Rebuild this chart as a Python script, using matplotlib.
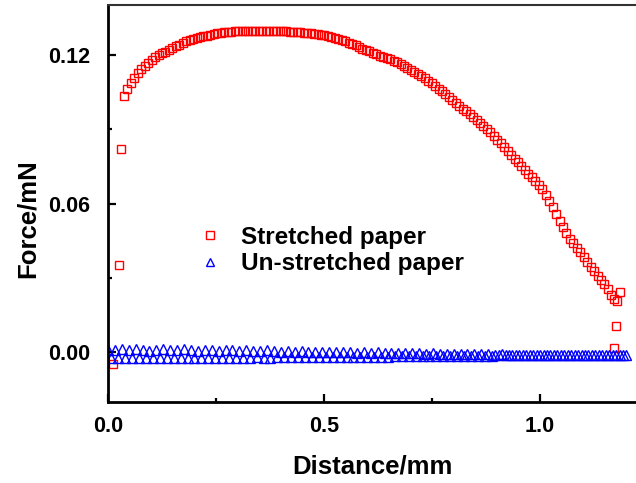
import matplotlib
matplotlib.use('Agg')
import matplotlib.pyplot as plt
from matplotlib.ticker import MultipleLocator

plt.rcParams['font.family'] = ['Liberation Sans', 'DejaVu Sans']
plt.rcParams['font.weight'] = 'bold'

# Stretched paper (red squares)
red_x = [0.012, 0.025, 0.030,
         0.037, 0.045, 0.053, 0.061, 0.069, 0.077, 0.085, 0.093, 0.101, 0.109,
         0.117, 0.125, 0.133, 0.141, 0.149, 0.157, 0.165, 0.173, 0.181, 0.189,
         0.197, 0.205, 0.213, 0.221, 0.229, 0.237, 0.245, 0.253, 0.261, 0.269,
         0.277, 0.285, 0.293, 0.301, 0.309, 0.317, 0.325, 0.333, 0.341, 0.349,
         0.357, 0.365, 0.373, 0.381, 0.389, 0.397, 0.405, 0.413, 0.421, 0.429,
         0.437, 0.445, 0.453, 0.461, 0.469, 0.477, 0.485, 0.493, 0.501, 0.509,
         0.517, 0.525, 0.533, 0.541, 0.549, 0.557, 0.565, 0.573, 0.581, 0.589,
         0.597, 0.605, 0.613, 0.621, 0.629, 0.637, 0.645, 0.653, 0.661, 0.669,
         0.677, 0.685, 0.693, 0.701, 0.709, 0.717, 0.725, 0.733, 0.741, 0.749,
         0.757, 0.765, 0.773, 0.781, 0.789, 0.797, 0.805, 0.813, 0.821, 0.829,
         0.837, 0.845, 0.853, 0.861, 0.869, 0.877, 0.885, 0.893, 0.901, 0.909,
         0.917, 0.925, 0.933, 0.941, 0.949, 0.957, 0.965, 0.973, 0.981, 0.989,
         0.997, 1.005, 1.013, 1.021, 1.029, 1.037, 1.045, 1.053, 1.061, 1.069,
         1.077, 1.085, 1.093, 1.101, 1.109, 1.117, 1.125, 1.133, 1.141, 1.149,
         1.157,
         1.165, 1.172, 1.178, 1.185, 1.176, 1.170]
red_y = [-0.005, 0.035, 0.082,
         .1034, .1062, .1088, .1108, .1126, .1142, .1156, .1169, .1180, .1190,
         .1199, .1207, .1214, .1221, .1228, .1235, .1241, .1249, .1255, .1260,
         .1265, .1269, .1272, .1275, .1278, .1281, .1284, .1287, .1289, .1291,
         .1293, .1294, .1295, .1296, .1297, .1297, .1298, .1298, .1298, .1298,
         .1298, .1298, .1297, .1297, .1296, .1296, .1295, .1295, .1294, .1293,
         .1292, .1291, .1290, .1288, .1287, .1285, .1283, .1281, .1279, .1276,
         .1272, .1268, .1264, .1259, .1255, .1250, .1244, .1239, .1233, .1226,
         .1220, .1215, .1209, .1203, .1197, .1192, .1187, .1182, .1177, .1172,
         .1165, .1157, .1149, .1141, .1133, .1124, .1115, .1106, .1096, .1086,
         .1075, .1064, .1053, .1041, .1029, .1018, .1006, .0994, .0982, .0972,
         .0961, .0950, .0938, .0926, .0914, .0901, .0887, .0872, .0858, .0843,
         .0828, .0812, .0796, .0781, .0766, .0751, .0736, .0721, .0706, .0691,
         .0676, .0657, .0634, .0611, .0585, .0557, .0529, .0505, .0481, .0457,
         .0439, .0421, .0404, .0384, .0364, .0345, .0327, .0309, .0291, .0273,
         .0255,
         .0232, .0215, .0206, .0242, .0105, .0015]

# Un-stretched paper (blue triangles)
blue_x = [0.000, 0.008, 0.016, 0.024, 0.032, 0.040, 0.048, 0.056, 0.064, 0.072,
          0.080, 0.088, 0.096, 0.104, 0.112, 0.120, 0.128, 0.136, 0.144, 0.152,
          0.160, 0.168, 0.176, 0.184, 0.192, 0.200, 0.208, 0.216, 0.224, 0.232,
          0.240, 0.248, 0.256, 0.264, 0.272, 0.280, 0.288, 0.296, 0.304, 0.312,
          0.320, 0.328, 0.336, 0.344, 0.352, 0.360, 0.368, 0.376, 0.384, 0.392,
          0.400, 0.408, 0.416, 0.424, 0.432, 0.440, 0.448, 0.456, 0.464, 0.472,
          0.480, 0.488, 0.496, 0.504, 0.512, 0.520, 0.528, 0.536, 0.544, 0.552,
          0.560, 0.568, 0.576, 0.584, 0.592, 0.600, 0.608, 0.616, 0.624, 0.632,
          0.640, 0.648, 0.656, 0.664, 0.672, 0.680, 0.688, 0.696, 0.704, 0.712,
          0.720, 0.728, 0.736, 0.744, 0.752, 0.760, 0.768, 0.776, 0.784, 0.792,
          0.800, 0.808, 0.816, 0.824, 0.832, 0.840, 0.848, 0.856, 0.864, 0.872,
          0.880, 0.888, 0.896, 0.904, 0.912, 0.920, 0.928, 0.936, 0.944, 0.952,
          0.960, 0.968, 0.976, 0.984, 0.992, 1.000, 1.008, 1.016, 1.024, 1.032,
          1.040, 1.048, 1.056, 1.064, 1.072, 1.080, 1.088, 1.096, 1.104, 1.112,
          1.120, 1.128, 1.136, 1.144, 1.152, 1.160, 1.168, 1.176, 1.184, 1.192,
          1.200]
blue_y = [0.0010, -0.0024, 0.0008, -0.0025, 0.0012, -0.0023, 0.0007, -0.0024, 0.0011, -0.0024,
          0.0009, -0.0025, 0.0006, -0.0023, 0.0010, -0.0024, 0.0013, -0.0024, 0.0008, -0.0023,
          0.0007, -0.0024, 0.0011, -0.0025, 0.0009, -0.0023, 0.0006, -0.0024, 0.0010, -0.0024,
          0.0008, -0.0023, 0.0005, -0.0024, 0.0009, -0.0024, 0.0007, -0.0023, 0.0004, -0.0024,
          0.0008, -0.0023, 0.0006, -0.0022, 0.0003, -0.0023, 0.0007, -0.0023, 0.0004, -0.0022,
          0.0002, -0.0022, 0.0005, -0.0022, 0.0001, -0.0021, 0.0003, -0.0022, 0.0000, -0.0021,
          0.0002, -0.0021, -0.0001, -0.0021, 0.0001, -0.0020, -0.0002, -0.0021, 0.0000, -0.0020,
          -0.0002, -0.0020, -0.0003, -0.0019, -0.0001, -0.0020, -0.0004, -0.0019, -0.0002, -0.0019,
          -0.0004, -0.0019, -0.0005, -0.0018, -0.0003, -0.0018, -0.0006, -0.0018, -0.0004, -0.0017,
          -0.0006, -0.0017, -0.0007, -0.0017, -0.0005, -0.0017, -0.0008, -0.0016, -0.0007, -0.0016,
          -0.0008, -0.0016, -0.0009, -0.0016, -0.0008, -0.0015, -0.0010, -0.0015, -0.0009, -0.0015,
          -0.0010, -0.0015, -0.0011, -0.0014, -0.0010, -0.0014, -0.0011, -0.0014, -0.0012, -0.0014,
          -0.0011, -0.0013, -0.0012, -0.0013, -0.0012, -0.0013, -0.0011, -0.0013, -0.0012, -0.0013,
          -0.0012, -0.0013, -0.0012, -0.0012, -0.0013, -0.0012, -0.0012, -0.0013, -0.0012, -0.0012,
          -0.0012, -0.0012, -0.0013, -0.0012, -0.0012, -0.0012, -0.0012, -0.0012, -0.0012, -0.0012,
          -0.0012]

fig = plt.figure(figsize=(6.36, 4.83), dpi=100)
ax = fig.add_axes([108/636, 1 - 402/483, 1 - 108/636, (402 - 5)/483])

ax.plot(red_x, red_y, ls='none', marker='s', ms=5.6, mfc='none', mec='#ff0000',
        mew=1.0, label='Stretched paper')
ax.plot(blue_x, blue_y, ls='none', marker='^', ms=7.5, mfc='none', mec='#0000ff',
        mew=1.0, label='Un-stretched paper')

ax.set_xlim(0, 1.222)
ax.set_ylim(-0.0202, 0.1402)
ax.xaxis.set_major_locator(MultipleLocator(0.5))
ax.xaxis.set_minor_locator(MultipleLocator(0.25))
ax.yaxis.set_major_locator(MultipleLocator(0.06))
ax.yaxis.set_minor_locator(MultipleLocator(0.03))
ax.xaxis.set_major_formatter(plt.FormatStrFormatter('%.1f'))
ax.yaxis.set_major_formatter(plt.FormatStrFormatter('%.2f'))

ax.tick_params(which='major', direction='in', length=6, width=1.6, labelsize=15.5)
ax.tick_params(which='minor', direction='in', length=3, width=1.6)
ax.tick_params(axis='x', pad=10)
ax.tick_params(axis='y', pad=13)
ax.tick_params(top=False, right=False, which='both')

ax.spines['left'].set_linewidth(2)
ax.spines['bottom'].set_linewidth(2)
ax.spines['top'].set_linewidth(1.5)
ax.spines['top'].set_color('#333333')
ax.spines['right'].set_visible(False)

ax.set_xlabel('Distance/mm', fontsize=18.5, fontweight='bold')
ax.set_ylabel('Force/mN', fontsize=18.5, fontweight='bold')
ax.xaxis.set_label_coords(0.5, -0.181)
ax.xaxis.label.set_va('baseline')
ax.yaxis.set_label_coords(-0.13, 0.463)

leg = ax.legend(loc='upper left', bbox_to_anchor=((198 - 108)/528, (402 - 226)/397),
                frameon=False, numpoints=1, handlelength=1.0, handletextpad=0.75,
                borderpad=0, borderaxespad=0, labelspacing=0.13,
                prop={'size': 17.5, 'weight': 'bold'})
for h in leg.legend_handles:
    h.set_markersize(5.5)

fig.savefig('out.png', dpi=100)
